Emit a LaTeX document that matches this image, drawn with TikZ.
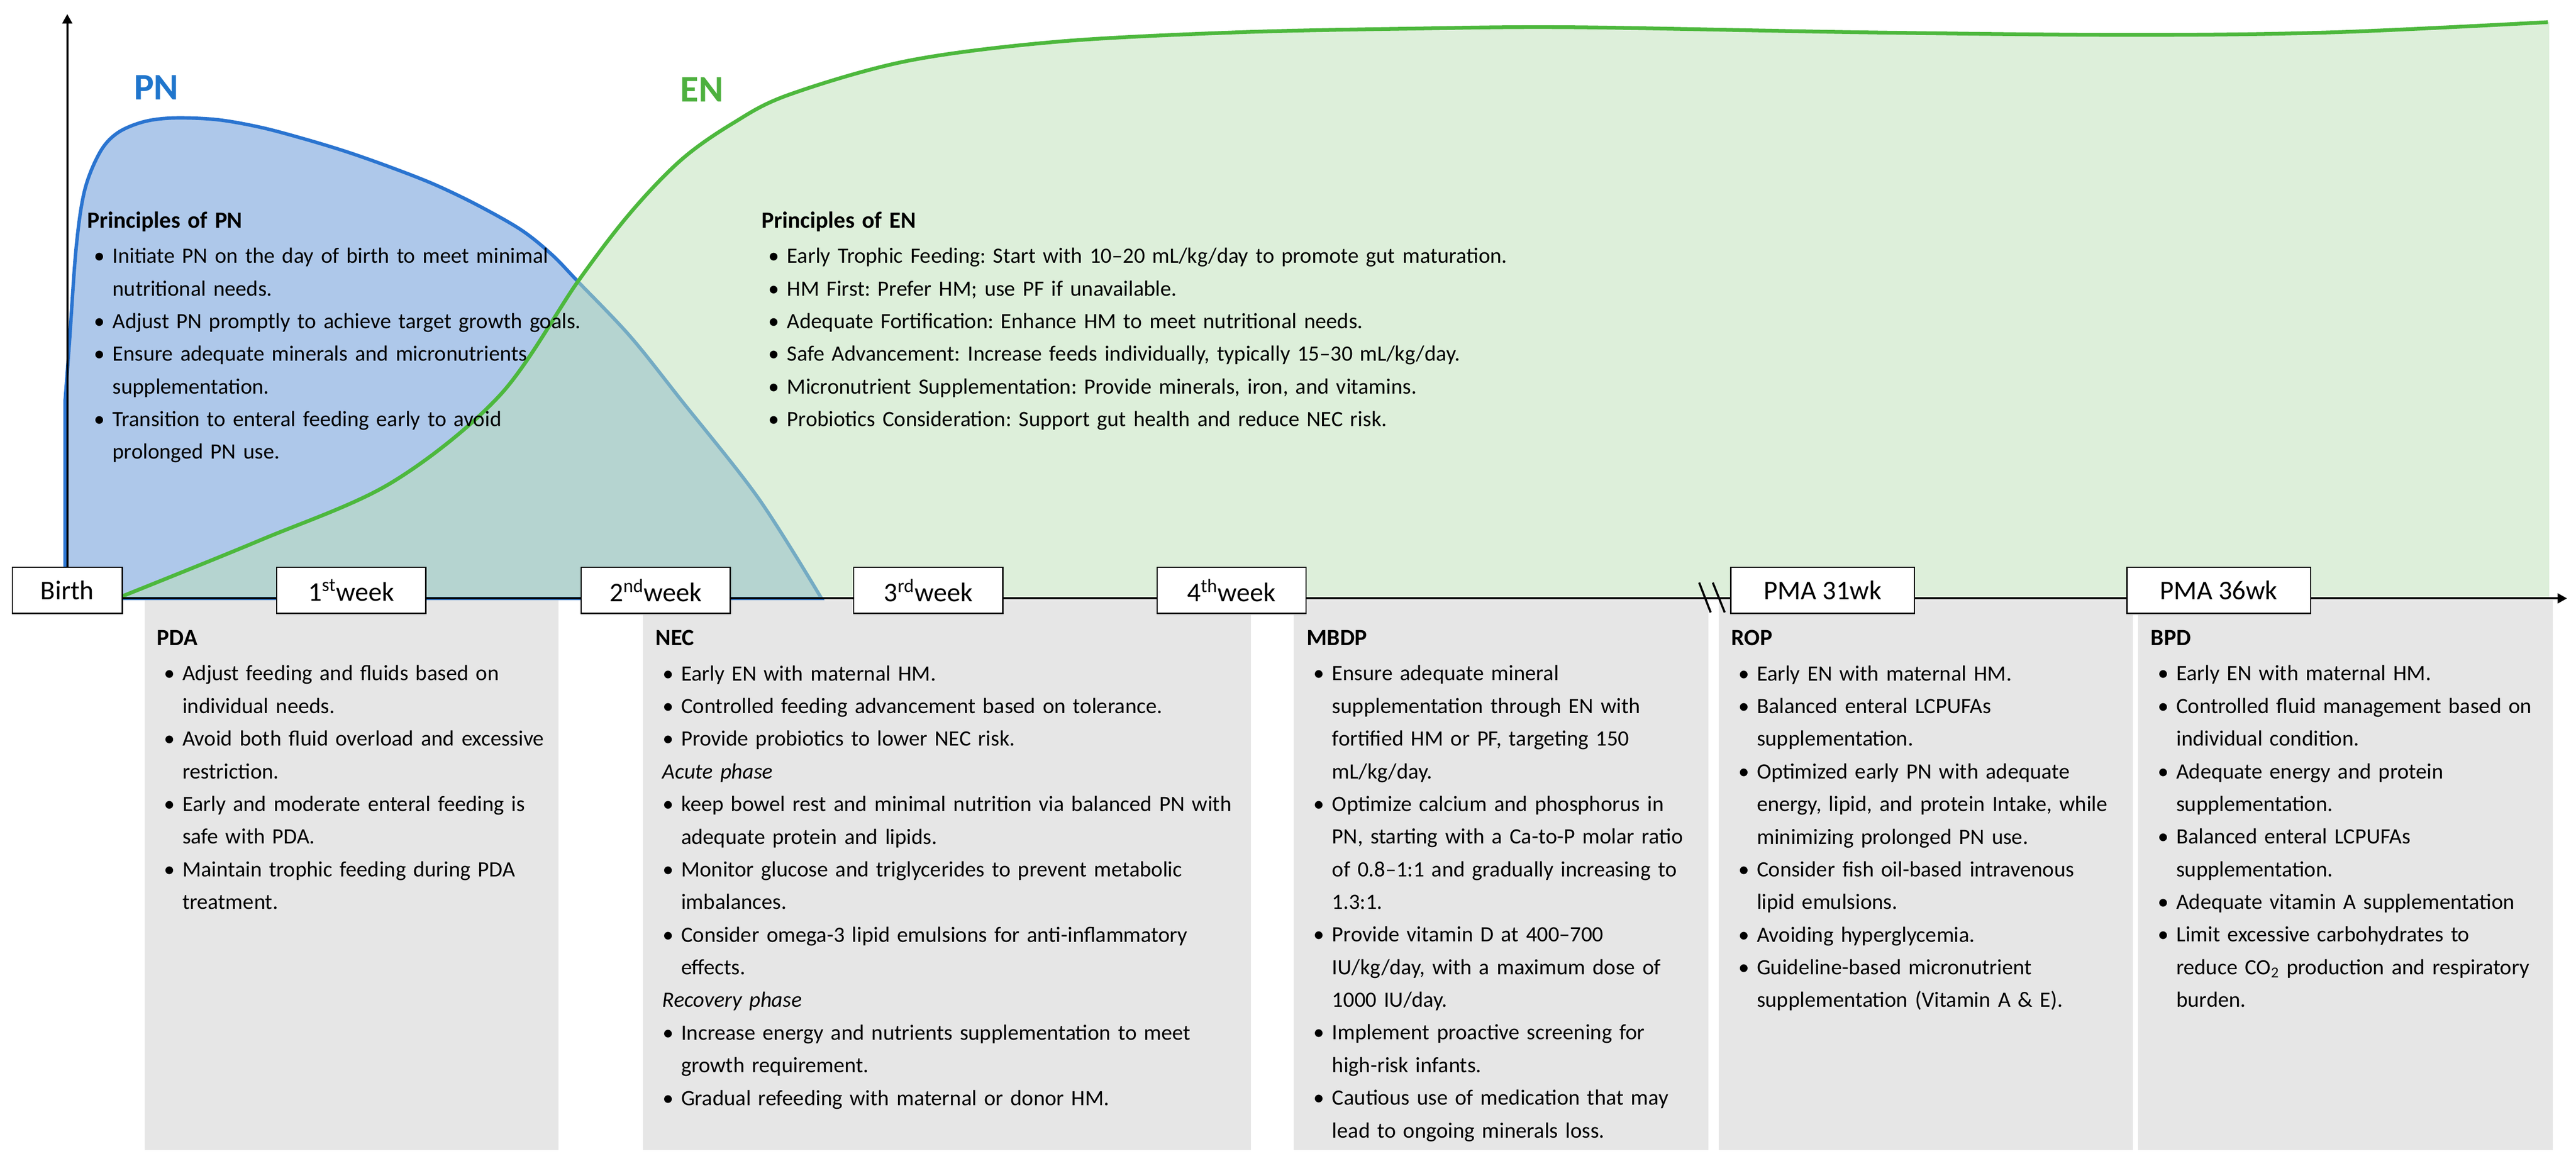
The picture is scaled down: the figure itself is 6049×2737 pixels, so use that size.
\documentclass[tikz,border=0pt]{standalone}
\usepackage{fontspec}
\setmainfont{Carlito}
\usepackage{xcolor}
\usetikzlibrary{arrows.meta}
\definecolor{pnblue}{RGB}{42,116,208}
\definecolor{pnfill}{RGB}{174,200,234}
\definecolor{pnlabel}{RGB}{31,117,204}
\definecolor{engreen}{RGB}{77,184,61}
\definecolor{enfill}{RGB}{189,224,183}
\definecolor{enlabel}{RGB}{77,176,62}
\definecolor{panelgray}{RGB}{230,230,230}
\frenchspacing

% list helpers for the text blocks
\newcommand{\ptitle}[1]{{\bfseries\fontsize{15.5}{21.8}\selectfont #1}\par\vspace{1.8pt}}
\newcommand{\bitem}[1]{\par\hangindent=17pt\hangafter=1\noindent\makebox[17pt][l]{\hspace{4.6pt}\textbullet}#1\par}
\newcommand{\phase}[1]{\par\noindent\hspace{4.5pt}\textit{#1}\par}

\begin{document}
\begin{tikzpicture}[x=0.01cm, y=-0.01cm,
  wkbox/.style={draw=black, line width=0.85pt, fill=white, minimum width=3.5cm, minimum height=1.08cm, inner sep=0pt, font=\fontsize{18}{20}\selectfont},
  paneltext/.style={anchor=north west, inner sep=0pt, align=left, font=\fontsize{14.6}{21.8}\selectfont},
  axis/.style={line width=1.4pt, -{Triangle[width=6.5pt,length=6.3pt]}}]
\useasboundingbox (0,0) rectangle (6049,2737);

% PN and EN areas
\filldraw[fill=pnfill, draw=pnblue, line width=2.3pt] (153,1405) -- plot[smooth, tension=0.55] coordinates {(153,940) (163,804) (179,580) (199,446) (235,357) (276,312) (337,286) (408,277) (510,281) (612,299) (714,326) (816,357) (918,393) (1020,433) (1122,482) (1224,540) (1296,598) (1357,661) (1480,790) (1600,940) (1781,1170) (1929,1405)} -- cycle;
\fill[enfill, opacity=0.51] (287,1405) -- plot[smooth, tension=0.55] coordinates {(287,1400) (612,1268) (918,1134) (1173,929) (1357,661) (1480,500) (1600,375) (1720,290) (1851,223) (2131,143) (2482,98) (2903,76) (3324,67) (3700,64) (4381,76) (5006,82) (5475,76) (5986,52)} -- (5986,1405) -- cycle;
\draw[engreen, line width=2.5pt] plot[smooth, tension=0.55] coordinates {(287,1400) (612,1268) (918,1134) (1173,929) (1357,661) (1480,500) (1600,375) (1720,290) (1851,223) (2131,143) (2482,98) (2903,76) (3324,67) (3700,64) (4381,76) (5006,82) (5475,76) (5983,52)};

\node[pnlabel, font=\bfseries\fontsize{25}{30}\selectfont] (pnname) at (367,205) {PN};
\node[enlabel, font=\bfseries\fontsize{25}{30}\selectfont] (enname) at (1648,211) {EN};

% grey panels
\fill[panelgray] (340,1410) rectangle (1311,2700);
\fill[panelgray] (1510,1410) rectangle (2937,2700);
\fill[panelgray] (3038,1410) rectangle (4012,2700);
\fill[panelgray] (4036,1410) rectangle (5009,2700);
\fill[panelgray] (5021,1410) rectangle (5994,2700);

% axes
\coordinate (origin) at (158,1405);
\coordinate (yend) at (158,33);
\coordinate (xend) at (6028,1405);
\draw[axis] (origin) -- (yend);
\draw[axis] (origin) -- (xend);
\draw[line width=1.4pt] (3990,1368) -- (4017,1438);
\draw[line width=1.4pt] (4022,1368) -- (4050,1438);

% time points
\node[wkbox, minimum width=2.58cm] (birth) at (158,1386) {Birth};
\node[wkbox] (wk1) at (825,1386) {1\textsuperscript{st}week};
\node[wkbox] (wk2) at (1540,1386) {2\textsuperscript{nd}week};
\node[wkbox] (wk3) at (2180,1386) {3\textsuperscript{rd}week};
\node[wkbox] (wk4) at (2892,1386) {4\textsuperscript{th}week};
\node[wkbox, minimum width=4.31cm] (pma31) at (4280,1386) {PMA 31wk};
\node[wkbox, minimum width=4.31cm] (pma36) at (5210,1386) {PMA 36wk};

% principles
\node[paneltext, text width=15cm] (pntext) at (204,496) {\ptitle{Principles of PN}
\bitem{Initiate PN on the day of birth to meet minimal\newline nutritional needs.}
\bitem{Adjust PN promptly to achieve target growth goals.}
\bitem{Ensure adequate minerals and micronutrients\newline supplementation.}
\bitem{Transition to enteral feeding early to avoid\newline prolonged PN use.}};
\node[paneltext, text width=22cm] (entext) at (1788,496) {\ptitle{Principles of EN}
\bitem{Early Trophic Feeding: Start with 10–20 mL/kg/day to promote gut maturation.}
\bitem{HM First: Prefer HM; use PF if unavailable.}
\bitem{Adequate Fortification: Enhance HM to meet nutritional needs.}
\bitem{Safe Advancement: Increase feeds individually, typically 15–30 mL/kg/day.}
\bitem{Micronutrient Supplementation: Provide minerals, iron, and vitamins.}
\bitem{Probiotics Consideration: Support gut health and reduce NEC risk.}};

% complications
\node[paneltext, text width=12cm] (pdatext) at (368,1479) {\ptitle{PDA}
\bitem{Adjust feeding and fluids based on\newline individual needs.}
\bitem{Avoid both fluid overload and excessive\newline restriction.}
\bitem{Early and moderate enteral feeding is\newline safe with PDA.}
\bitem{Maintain trophic feeding during PDA\newline treatment.}};
\node[paneltext, text width=16cm] (nectext) at (1539,1479) {\ptitle{NEC}
\bitem{Early EN with maternal HM.}
\bitem{Controlled feeding advancement based on tolerance.}
\bitem{Provide probiotics to lower NEC risk.}
\phase{Acute phase}
\bitem{keep bowel rest and minimal nutrition via balanced PN with\newline adequate protein and lipids.}
\bitem{Monitor glucose and triglycerides to prevent metabolic\newline imbalances.}
\bitem{Consider omega-3 lipid emulsions for anti-inflammatory\newline effects.}
\phase{Recovery phase}
\bitem{Increase energy and nutrients supplementation to meet\newline growth requirement.}
\bitem{Gradual refeeding with maternal or donor HM.}};
\node[paneltext, text width=12cm] (mbdptext) at (3068,1479) {\ptitle{MBDP}
\bitem{Ensure adequate mineral\newline supplementation through EN with\newline fortified HM or PF, targeting 150\newline mL/kg/day.}
\bitem{Optimize calcium and phosphorus in\newline PN, starting with a Ca-to-P molar ratio\newline of 0.8–1:1 and gradually increasing to\newline 1.3:1.}
\bitem{Provide vitamin D at 400–700\newline IU/kg/day, with a maximum dose of\newline 1000 IU/day.}
\bitem{Implement proactive screening for\newline high-risk infants.}
\bitem{Cautious use of medication that may\newline lead to ongoing minerals loss.}};
\node[paneltext, text width=12cm] (roptext) at (4065,1479) {\ptitle{ROP}
\bitem{Early EN with maternal HM.}
\bitem{Balanced enteral LCPUFAs\newline supplementation.}
\bitem{Optimized early PN with adequate\newline energy, lipid, and protein Intake, while\newline minimizing prolonged PN use.}
\bitem{Consider fish oil-based intravenous\newline lipid emulsions.}
\bitem{Avoiding hyperglycemia.}
\bitem{Guideline-based micronutrient\newline supplementation (Vitamin A \& E).}};
\node[paneltext, text width=12cm] (bpdtext) at (5050,1479) {\ptitle{BPD}
\bitem{Early EN with maternal HM.}
\bitem{Controlled fluid management based on\newline individual condition.}
\bitem{Adequate energy and protein\newline supplementation.}
\bitem{Balanced enteral LCPUFAs\newline supplementation.}
\bitem{Adequate vitamin A supplementation}
\bitem{Limit excessive carbohydrates to\newline reduce CO\textsubscript{2} production and respiratory\newline burden.}};
\end{tikzpicture}
\end{document}
